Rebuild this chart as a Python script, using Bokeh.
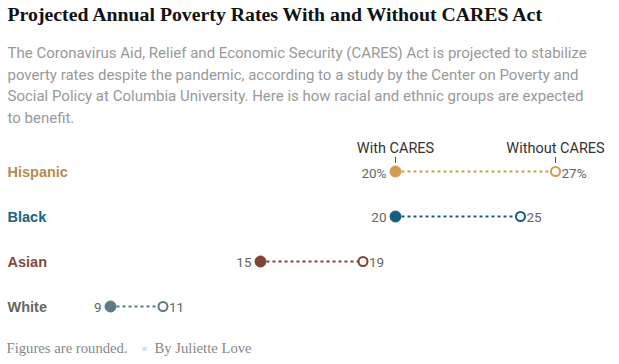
from bokeh.plotting import figure
from bokeh.models import Range1d, Label, ColumnDataSource
from bokeh.core.properties import value
from bokeh.embed import file_html
from bokeh.resources import INLINE

# ---- data ----
groups = ["Hispanic", "Black", "Asian", "White"]
with_cares = [20.3, 20.3, 14.9, 8.9]        # estimated unrounded rates (%)
without_cares = [26.7, 25.3, 19.0, 11.0]
with_labels = ["20%", "20", "15", "9"]
without_labels = ["27%", "25", "19", "11"]
colors = ["#d09c4e", "#12607d", "#7e4236", "#5b7a84"]
label_colors = ["#b38c4f", "#166480", "#834a3e", "#656760"]

title = "Projected Annual Poverty Rates With and Without CARES Act"
subtitle = [
    "The Coronavirus Aid, Relief and Economic Security (CARES) Act is projected to stabilize",
    "poverty rates despite the pandemic, according to a study by the Center on Poverty and",
    "Social Policy at Columbia University. Here is how racial and ethnic groups are expected",
    "to benefit.",
]
note = "Figures are rounded."
byline = "By Juliette Love"

# ---- layout ----
W, H = 619, 364
PX_PER_UNIT = 25.0
X_ORIGIN = -112.5          # pixel position of value 0
ROW0, ROW_PX = 171.0, 45.0


def px(page_x):
    """convert a pixel column into the x data space"""
    return (page_x - X_ORIGIN) / PX_PER_UNIT


p = figure(width=W, height=H, output_backend="svg", toolbar_location=None,
           x_range=Range1d(px(0), px(W)), y_range=Range1d(H, 0),
           min_border=0, outline_line_color=None, background_fill_color="white",
           border_fill_color="white")
p.axis.visible = False
p.grid.visible = False

row_y = [ROW0 + ROW_PX * i for i in range(len(groups))]
src = ColumnDataSource(dict(
    y=row_y, w=with_cares, wo=without_cares, wl=with_labels, wol=without_labels,
    c=colors, lc=label_colors, g=groups, lx=[px(7)] * len(groups),
))

p.segment(x0="w", y0="y", x1="wo", y1="y", line_color="c", line_width=2,
          line_dash="3 3", source=src)
p.scatter(x="w", y="y", size=11, fill_color="c", line_color="c", source=src)
p.scatter(x="wo", y="y", size=9, fill_color="white", line_color="c",
          line_width=2, source=src)

p.text(x="w", y="y", text="wl", x_offset=-9, y_offset=1, text_align="right",
       text_baseline="middle", text_font=value("Roboto"), text_font_size="13.5px",
       text_color="#666666", source=src)
p.text(x="wo", y="y", text="wol", x_offset=6, y_offset=1, text_align="left",
       text_baseline="middle", text_font=value("Roboto"), text_font_size="13.5px",
       text_color="#666666", source=src)

p.text(x="lx", y="y", text="g", text_align="left", text_baseline="middle",
       text_font=value("Liberation Sans"), text_font_size="14.5px",
       text_font_style="bold", text_color="lc", source=src)

# column headers over the first row
hdr = ColumnDataSource(dict(
    x=[with_cares[0], without_cares[0]],
    y=[row_y[0] - 23] * 2,
    t=["With CARES", "Without CARES"],
    y0=[row_y[0] - 14.5] * 2,
    y1=[row_y[0] - 8.5] * 2,
))
p.text(x="x", y="y", text="t", text_align="center",
       text_baseline="middle", text_font=value("Roboto"),
       text_font_size="14.5px", text_color="#333333", source=hdr)
p.segment(x0="x", y0="y0", x1="x", y1="y1", line_color="#555555",
          line_width=1, source=hdr)

# titles
p.add_layout(Label(x=px(7), y=13.5, text=title, text_font="Liberation Serif",
                   text_font_size="19.8px", text_font_style="bold",
                   text_color="#121212", text_baseline="middle"))
for i, line in enumerate(subtitle):
    p.add_layout(Label(x=px(7), y=52.5 + 21.7 * i, text=line, text_font="Roboto",
                       text_font_size="15px", text_color="#999999",
                       text_baseline="middle"))

p.add_layout(Label(x=px(6), y=347, text=note, text_font="Liberation Serif",
                   text_font_size="14.7px", text_color="#888888",
                   text_baseline="middle"))
p.add_layout(Label(x=px(141), y=348, text="\u25aa", text_font="DejaVu Sans",
                   text_font_size="8px", text_color="#dddddd",
                   text_baseline="middle"))
p.add_layout(Label(x=px(154), y=347, text=byline, text_font="Liberation Serif",
                   text_font_size="14.7px", text_color="#888888",
                   text_baseline="middle"))

open("out.html", "w").write(file_html(p, INLINE))
